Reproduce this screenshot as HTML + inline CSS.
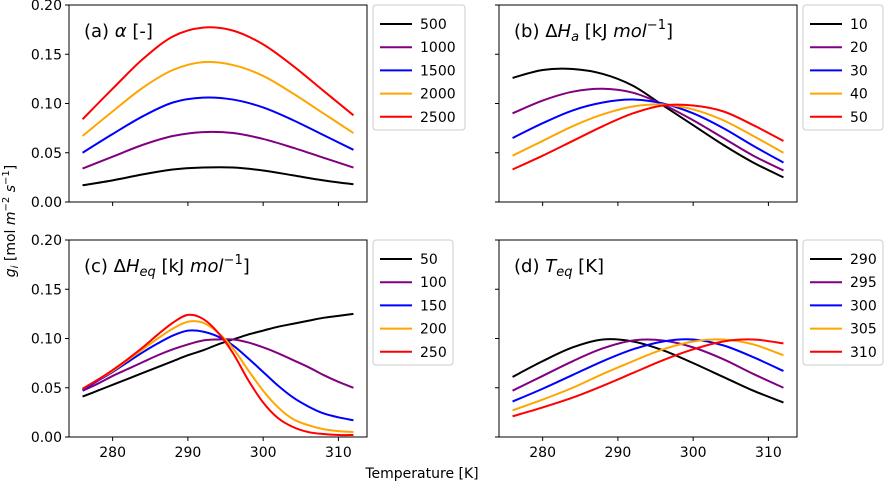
<!DOCTYPE html>
<html><head><meta charset="utf-8"><style>
body{margin:0;background:#fff}
svg{font-family:"DejaVu Sans","Liberation Sans",sans-serif}
</style></head><body>
<svg id="c" width="887" height="482"></svg>
<script>
const temps=[276,280,284,288,292,296,300,304,308,312];
const tempsC=[276,278,280,282,284,286,288,290,292,294,296,298,300,302,304,306,308,310,312];
const colors=["#000000","#800080","#0000ff","#ffa500","#ff0000"];
const yTicks=[0,0.05,0.10,0.15,0.20];
const yTickLabels=["0.00","0.05","0.10","0.15","0.20"];
const xTicks=[280,290,300,310];
const labelsA=["500","1000","1500","2000","2500"];
const labelsB=["10","20","30","40","50"];
const labelsC=["50","100","150","200","250"];
const labelsD=["290","295","300","305","310"];
const seriesA=[
[0.017,0.022,0.028,0.033,0.035,0.035,0.032,0.027,0.022,0.018],
[0.034,0.046,0.058,0.067,0.071,0.070,0.064,0.055,0.045,0.035],
[0.050,0.069,0.087,0.101,0.106,0.104,0.096,0.083,0.068,0.053],
[0.067,0.092,0.116,0.134,0.142,0.139,0.128,0.110,0.090,0.070],
[0.084,0.115,0.145,0.168,0.177,0.174,0.160,0.138,0.113,0.088]];
const seriesB=[
[0.126,0.134,0.135,0.130,0.118,0.098,0.078,0.058,0.040,0.025],
[0.090,0.103,0.112,0.115,0.111,0.099,0.083,0.065,0.047,0.032],
[0.065,0.080,0.093,0.101,0.104,0.100,0.090,0.075,0.057,0.040],
[0.047,0.062,0.077,0.089,0.097,0.099,0.094,0.083,0.067,0.050],
[0.033,0.047,0.062,0.077,0.090,0.098,0.098,0.092,0.078,0.062]];
const seriesC=[
[0.041,0.047,0.053,0.059,0.065,0.071,0.077,0.083,0.088,0.094,0.099,0.104,0.108,0.112,0.115,0.118,0.121,0.123,0.125],
[0.047,0.054,0.062,0.069,0.076,0.083,0.089,0.094,0.098,0.099,0.099,0.096,0.091,0.085,0.078,0.071,0.063,0.056,0.050],
[0.048,0.057,0.066,0.076,0.086,0.095,0.103,0.108,0.107,0.102,0.093,0.080,0.066,0.052,0.040,0.031,0.024,0.020,0.017],
[0.049,0.058,0.067,0.078,0.089,0.100,0.110,0.117,0.116,0.106,0.090,0.068,0.047,0.030,0.018,0.012,0.008,0.006,0.005],
[0.049,0.058,0.068,0.079,0.091,0.104,0.116,0.124,0.120,0.106,0.085,0.058,0.035,0.019,0.010,0.005,0.003,0.002,0.002]];
const seriesD=[
[0.061,0.077,0.091,0.099,0.097,0.088,0.075,0.061,0.047,0.035],
[0.047,0.062,0.077,0.090,0.098,0.098,0.091,0.079,0.064,0.050],
[0.036,0.049,0.063,0.077,0.089,0.097,0.099,0.093,0.081,0.067],
[0.027,0.038,0.050,0.064,0.077,0.089,0.097,0.099,0.094,0.083],
[0.021,0.030,0.040,0.052,0.065,0.078,0.089,0.097,0.099,0.095]];

const NS="http://www.w3.org/2000/svg";
const svg=document.getElementById('c');
function mk(tag,attrs,parent,text){const e=document.createElementNS(NS,tag);for(const k in attrs)e.setAttribute(k,attrs[k]);if(text!==undefined)e.textContent=text;(parent||svg).appendChild(e);return e;}
function smooth(p){let d="M"+p[0][0]+","+p[0][1];for(let i=0;i<p.length-1;i++){const p0=p[i-1]||p[i],p1=p[i],p2=p[i+1],p3=p[i+2]||p2;
d+=" C"+(p1[0]+(p2[0]-p0[0])/6)+","+(p1[1]+(p2[1]-p0[1])/6)+" "+(p2[0]-(p3[0]-p1[0])/6)+","+(p2[1]-(p3[1]-p1[1])/6)+" "+p2[0]+","+p2[1];}return d;}

function panel(name,ax,ay,showY,showX,title,series,labels,lx,tt_){
  const W=298,H=197,x0=274.2,x1=313.8;
  const g=mk('g',{},svg);
  
  
  const X=t=>ax+(t-x0)/(x1-x0)*W, Y=v=>ay+H-(v/0.2)*H;
  yTicks.forEach((v,i)=>{mk('line',{x1:ax-4,x2:ax,y1:Y(v),y2:Y(v),stroke:'#000'},g);
    if(showY){const t=mk('text',{x:ax-7,y:Y(v)+5,'text-anchor':'end','font-size':14},g,yTickLabels[i]);}});
  xTicks.forEach(v=>{mk('line',{x1:X(v),x2:X(v),y1:ay+H,y2:ay+H+4,stroke:'#000'},g);
    if(showX){const t=mk('text',{x:X(v),y:ay+H+20,'text-anchor':'middle','font-size':14},g,String(v));}});
  series.forEach((s,i)=>{const p=mk('path',{d:smooth(s.map((v,j)=>[X(tt_[j]),Y(v)])),fill:'none',stroke:colors[i],'stroke-width':2},g);
    });
  const fr=mk('rect',{x:ax,y:ay,width:W,height:H,fill:'none',stroke:'#000','stroke-width':1},g);
  
  const tt=mk('text',{x:ax+15,y:ay+32,'font-size':18},g);tt.innerHTML=title;
  
  const lg=mk('g',{},g);
  const lw=labels[4].length>=4?92:80;
  mk('rect',{x:lx,y:ay,width:lw,height:125,rx:3,fill:'#fff',stroke:'#ccc'},lg);
  labels.forEach((l,i)=>{const yy=ay+19+i*23.2;
    mk('line',{x1:lx+7,x2:lx+39,y1:yy,y2:yy,stroke:colors[i],'stroke-width':2},lg);
    const t=mk('text',{x:lx+47,y:yy+5,'font-size':14},lg,l);});
}
panel('panel-a',69,5,true,false,'(a) <tspan font-style="italic">α</tspan> [-]',seriesA,labelsA,373,temps);
panel('panel-b',499,5,false,false,'(b) Δ<tspan font-style="italic">H</tspan><tspan font-size="13" dy="4" font-style="italic">a</tspan><tspan dy="-4"> [kJ </tspan><tspan font-style="italic">mol</tspan><tspan font-size="13" dy="-8">−1</tspan><tspan dy="8">]</tspan>',seriesB,labelsB,803,temps);
panel('panel-c',69,240,true,true,'(c) Δ<tspan font-style="italic">H</tspan><tspan font-size="13" dy="4" font-style="italic">eq</tspan><tspan dy="-4"> [kJ </tspan><tspan font-style="italic">mol</tspan><tspan font-size="13" dy="-8">−1</tspan><tspan dy="8">]</tspan>',seriesC,labelsC,373,tempsC);
panel('panel-d',499,240,false,true,'(d) <tspan font-style="italic">T</tspan><tspan font-size="13" dy="4" font-style="italic">eq</tspan><tspan dy="-4"> [K]</tspan>',seriesD,labelsD,803,temps);
const xl=mk('text',{x:422,y:478,'text-anchor':'middle','font-size':14},svg,'Temperature [K]');

const yl=mk('text',{x:0,y:0,'text-anchor':'middle','font-size':14,transform:'translate(15,221) rotate(-90)'},svg);
yl.innerHTML='<tspan font-style="italic">g</tspan><tspan font-size="10" dy="3" font-style="italic">i</tspan><tspan dy="-3"> [mol </tspan><tspan font-style="italic">m</tspan><tspan font-size="10" dy="-6">−2</tspan><tspan dy="6"> </tspan><tspan font-style="italic">s</tspan><tspan font-size="10" dy="-6">−1</tspan><tspan dy="6">]</tspan>';

</script>
</body></html>
